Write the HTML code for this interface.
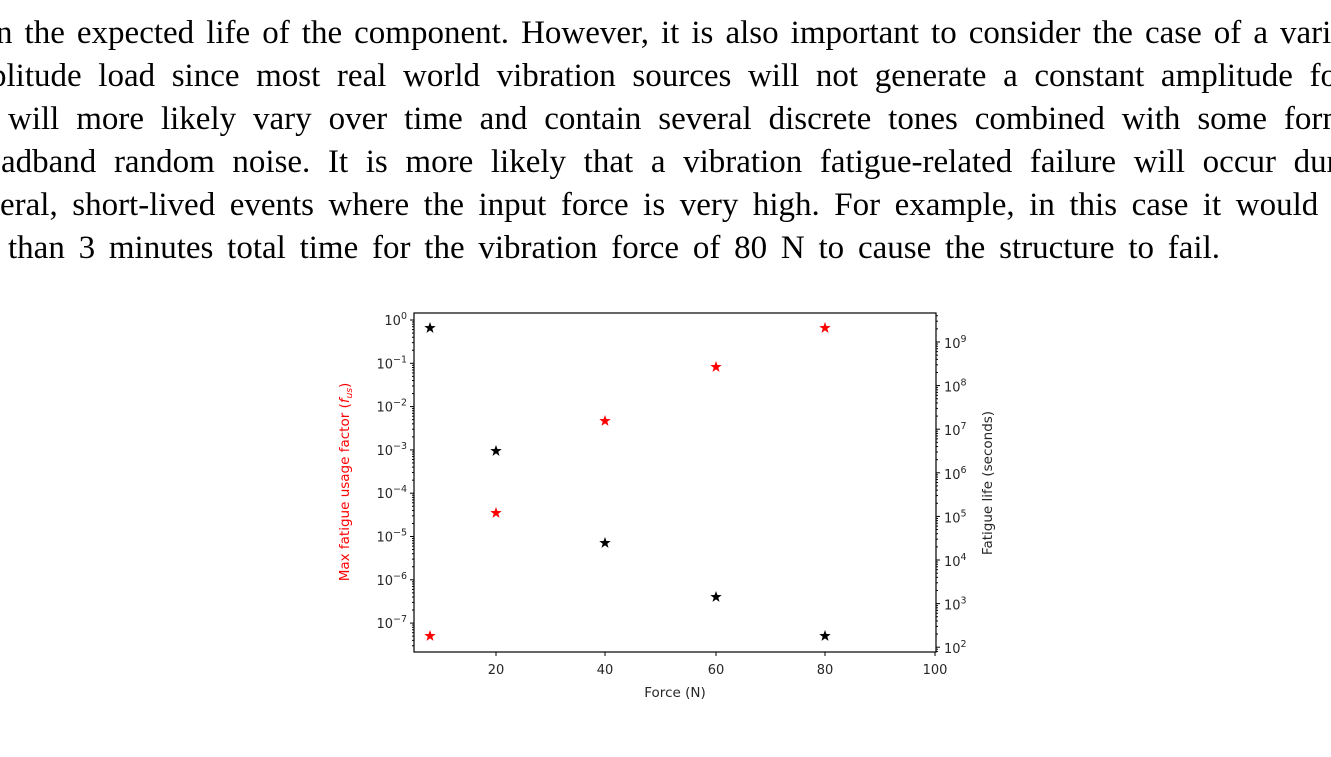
<!DOCTYPE html>
<html><head><meta charset="utf-8"><style>
html,body{margin:0;padding:0;background:#fff;width:1331px;height:757px;overflow:hidden}
svg{display:block}
.p{font-family:"Liberation Serif",serif;font-size:33px;fill:#000}
.t{font-family:"DejaVu Sans","Liberation Sans",sans-serif;font-size:13px;fill:#262626}
</style></head><body>
<svg id="s" width="1331" height="757" viewBox="0 0 1331 757" xmlns="http://www.w3.org/2000/svg">
<text class="p j" x="-4" y="43" data-w="1350">n the expected life of the component. However, it is also important to consider the case of a varia</text>
<text class="p j" x="-10" y="86" data-w="1358">plitude load since most real world vibration sources will not generate a constant amplitude for</text>
<text class="p j" x="8" y="129" data-w="1340">will more likely vary over time and contain several discrete tones combined with some form</text>
<text class="p j" x="1" y="172" data-w="1346">adband random noise.  It is more likely that a vibration fatigue-related failure will occur dur</text>
<text class="p j" x="0" y="215" data-w="1342">eral, short-lived events where the input force is very high. For example, in this case it would t</text>
<text class="p j" x="8" y="258" data-w="1212">than 3 minutes total time for the vibration force of 80 N to cause the structure to fail.</text>
<defs><polygon id="st" points="0,-6 1.4,-1.94 5.7,-1.85 2.28,0.74 3.53,4.85 0,2.4 -3.53,4.85 -2.28,0.74 -5.7,-1.85 -1.4,-1.94"/></defs>
<rect x="414" y="313" width="522" height="339" fill="none" stroke="#000" stroke-width="1.2"/>
<g id="ticks" stroke="#000" stroke-width="1"></g>
<g id="labs"></g>
<g fill="#000">
<use href="#st" x="430" y="328"/><use href="#st" x="496" y="451"/><use href="#st" x="605" y="543"/><use href="#st" x="716" y="597"/><use href="#st" x="825" y="636"/>
</g>
<g fill="#f00">
<use href="#st" x="430" y="636"/><use href="#st" x="496" y="513"/><use href="#st" x="605" y="421"/><use href="#st" x="716" y="367"/><use href="#st" x="825" y="328"/>
</g>
<text class="t" x="675" y="697" text-anchor="middle" style="font-size:13.5px">Force (N)</text>
<text class="t" transform="translate(349,482) rotate(-90)" text-anchor="middle" style="font-size:13.5px;fill:#f00">Max fatigue usage factor (<tspan font-style="italic">f</tspan><tspan font-style="italic" font-size="9" dy="3">us</tspan><tspan dy="-3">)</tspan></text>
<text class="t" transform="translate(992,483) rotate(-90)" text-anchor="middle" style="font-size:13.5px">Fatigue life (seconds)</text>
</svg>
<script>
document.querySelectorAll(".j").forEach(function(t){var w=+t.getAttribute("data-w");var n=(t.textContent.match(/ /g)||[]).length;var c=t.getComputedTextLength();if(n>0)t.setAttribute("word-spacing",((w-c)/n).toFixed(2));});
var NS="http://www.w3.org/2000/svg",T=document.getElementById("ticks"),L=document.getElementById("labs");
function ln(x1,y1,x2,y2){var l=document.createElementNS(NS,"line");l.setAttribute("x1",x1);l.setAttribute("y1",y1);l.setAttribute("x2",x2);l.setAttribute("y2",y2);T.appendChild(l);}
function tx(x,y,base,exp,anchor){var t=document.createElementNS(NS,"text");t.setAttribute("class","t");t.setAttribute("x",x);t.setAttribute("y",y);t.setAttribute("text-anchor",anchor);t.innerHTML=base+(exp!==null?'<tspan dy="-6" font-size="9.5">'+exp+'</tspan>':'');L.appendChild(t);}
[[20,496],[40,605],[60,716],[80,825],[100,935]].forEach(function(a){ln(a[1],652,a[1],656);tx(a[1],674,a[0],null,"middle");});
function yl(d){return 320-43.3*d;}
for(var d=-8;d<=0;d++){for(var k=1;k<10;k++){var y=yl(d+Math.log10(k));if(y<313||y>652)continue;if(k==1){ln(414,y,410,y);var e=d==0?"0":"\u2212"+(-d);tx(407,y+5,"10",e,"end");}else ln(414,y,412,y);}}
function yr(e){return 342+43.6*(9-e);}
for(var e=1;e<=9;e++){for(var k=1;k<10;k++){var y=yr(e+Math.log10(k));if(y<313||y>652)continue;if(k==1){ln(936,y,940,y);tx(944,y+6,"10",String(e),"start");}else ln(936,y,938,y);}}
</script>
</body></html>
